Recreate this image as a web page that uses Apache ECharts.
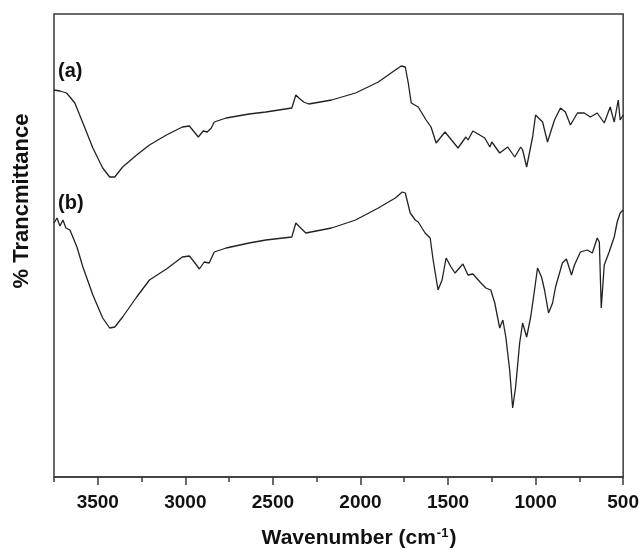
<!DOCTYPE html>
<html>
<head>
<meta charset="utf-8">
<title>FTIR</title>
<script src="https://cdn.jsdelivr.net/npm/echarts@6/dist/echarts.min.js"></script>
<style>
  html, body { margin: 0; padding: 0; background: #fff; }
  #ftirChart { width: 642px; height: 552px; }
</style>
</head>
<body>
<div id="ftirChart"></div>
<script>
// spectrum (a)
var wnA = [3750,3716,3678,3631,3585,3528,3472,3432,3403,3358,3278,3205,3108,3017,2977,2949,2926,2898,2875,2852,2835,2767,2636,2540,2392,2369,2352,2324,2295,2165,2028,1898,1801,1767,1744,1727,1710,1670,1625,1597,1568,1517,1443,1398,1386,1358,1290,1261,1250,1205,1159,1119,1085,1074,1051,1017,1000,960,932,892,858,830,801,761,722,687,648,608,574,551,528,517,500];
var tA  = [387,386,384,374,354,329,309,300,300,310,322,332,342,350,351,345,340,346,345,349,355,359,363,365,369,382,379,375,373,377,384,395,407,411,410,394,374,370,357,350,334,345,329,340,337,346,339,330,335,324,330,320,330,327,310,340,362,355,335,357,369,365,352,364,364,360,364,354,370,355,377,357,362];
// spectrum (b)
var wnB = [3750,3733,3716,3699,3682,3659,3619,3585,3528,3472,3432,3403,3358,3278,3205,3108,3017,2977,2949,2920,2892,2864,2835,2767,2636,2540,2392,2369,2347,2312,2165,2028,1898,1801,1761,1744,1716,1687,1670,1631,1602,1585,1557,1534,1511,1483,1460,1415,1386,1358,1312,1284,1256,1233,1205,1187,1170,1148,1131,1114,1091,1074,1051,1028,1006,989,966,949,926,903,886,847,824,795,778,744,705,676,648,636,625,608,580,551,534,517,500];
var tB  = [254,259,251,257,249,247,230,210,182,159,149,150,160,180,197,208,220,221,215,208,215,214,225,229,234,237,240,254,250,244,249,257,269,279,285,284,264,257,255,244,239,217,187,197,219,210,204,213,202,203,194,189,187,174,149,157,140,107,69,90,134,154,140,160,187,209,200,187,164,174,190,214,218,202,212,225,227,224,239,235,169,212,225,240,255,264,267];

var majorTicks = [500,1000,1500,2000,2500,3000,3500];
var minorTicks = [750,1250,1750,2250,2750,3250,3750];

function zip(xs, ys) {
  var out = [];
  for (var i = 0; i < xs.length; i++) out.push([xs[i], ys[i]]);
  return out;
}

var ftirChart = echarts.init(document.getElementById('ftirChart'));
var lineCol = '#222';
var frameCol = '#3a3a3a';
var fontFam = '"Liberation Sans", Arial, sans-serif';

var option = {
  animation: false,
  backgroundColor: '#fff',
  grid: {
    left: 54, right: 18, top: 14, bottom: 75,
    show: true, borderColor: frameCol, borderWidth: 1.5
  },
  xAxis: [
    {
      type: 'value', min: 500, max: 3750, interval: 500, inverse: true,
      axisLine: { show: true, lineStyle: { color: frameCol, width: 1.5 } },
      axisTick: { show: true, customValues: majorTicks, length: 8, lineStyle: { color: frameCol, width: 1.5 } },
      axisLabel: {
        customValues: majorTicks, margin: 16,
        formatter: function (v) { return String(v); },
        color: '#111', fontSize: 19, fontWeight: 'bold', fontFamily: fontFam
      },
      splitLine: { show: false }
    },
    {
      type: 'value', min: 500, max: 3750, inverse: true, position: 'bottom',
      axisLine: { show: false },
      axisTick: { show: true, customValues: minorTicks, length: 5, lineStyle: { color: frameCol, width: 1.5 } },
      axisLabel: { show: false },
      splitLine: { show: false }
    }
  ],
  yAxis: {
    type: 'value', min: 0, max: 463,
    axisLine: { show: false }, axisTick: { show: false },
    axisLabel: { show: false }, splitLine: { show: false }
  },
  series: [
    {
      name: '(a)', type: 'line', xAxisIndex: 0, showSymbol: false,
      data: zip(wnA, tA),
      lineStyle: { color: lineCol, width: 1.3 }
    },
    {
      name: '(b)', type: 'line', xAxisIndex: 0, showSymbol: false,
      data: zip(wnB, tB),
      lineStyle: { color: lineCol, width: 1.3 }
    }
  ],
  graphic: [
    {
      type: 'text', left: 58, top: 61,
      style: { text: '(a)', fill: '#111', font: 'bold 20px ' + fontFam }
    },
    {
      type: 'text', left: 58, top: 193,
      style: { text: '(b)', fill: '#111', font: 'bold 20px ' + fontFam }
    },
    {
      type: 'text', x: 22, y: 201, rotation: Math.PI / 2,
      style: {
        text: '% Trancmittance', fill: '#111', font: 'bold 22px ' + fontFam,
        align: 'center', verticalAlign: 'middle'
      }
    },
    {
      type: 'text', x: 359, y: 538,
      style: {
        text: '{t|Wavenumber (cm}{s|-1}{t|)}',
        align: 'center', verticalAlign: 'middle',
        rich: {
          t: { fill: '#111', font: 'bold 21px ' + fontFam, verticalAlign: 'bottom' },
          s: { fill: '#111', font: 'bold 13px ' + fontFam, verticalAlign: 'top', padding: [0, 1, 9, 1] }
        }
      }
    }
  ]
};
ftirChart.setOption(option);
</script>
</body>
</html>
